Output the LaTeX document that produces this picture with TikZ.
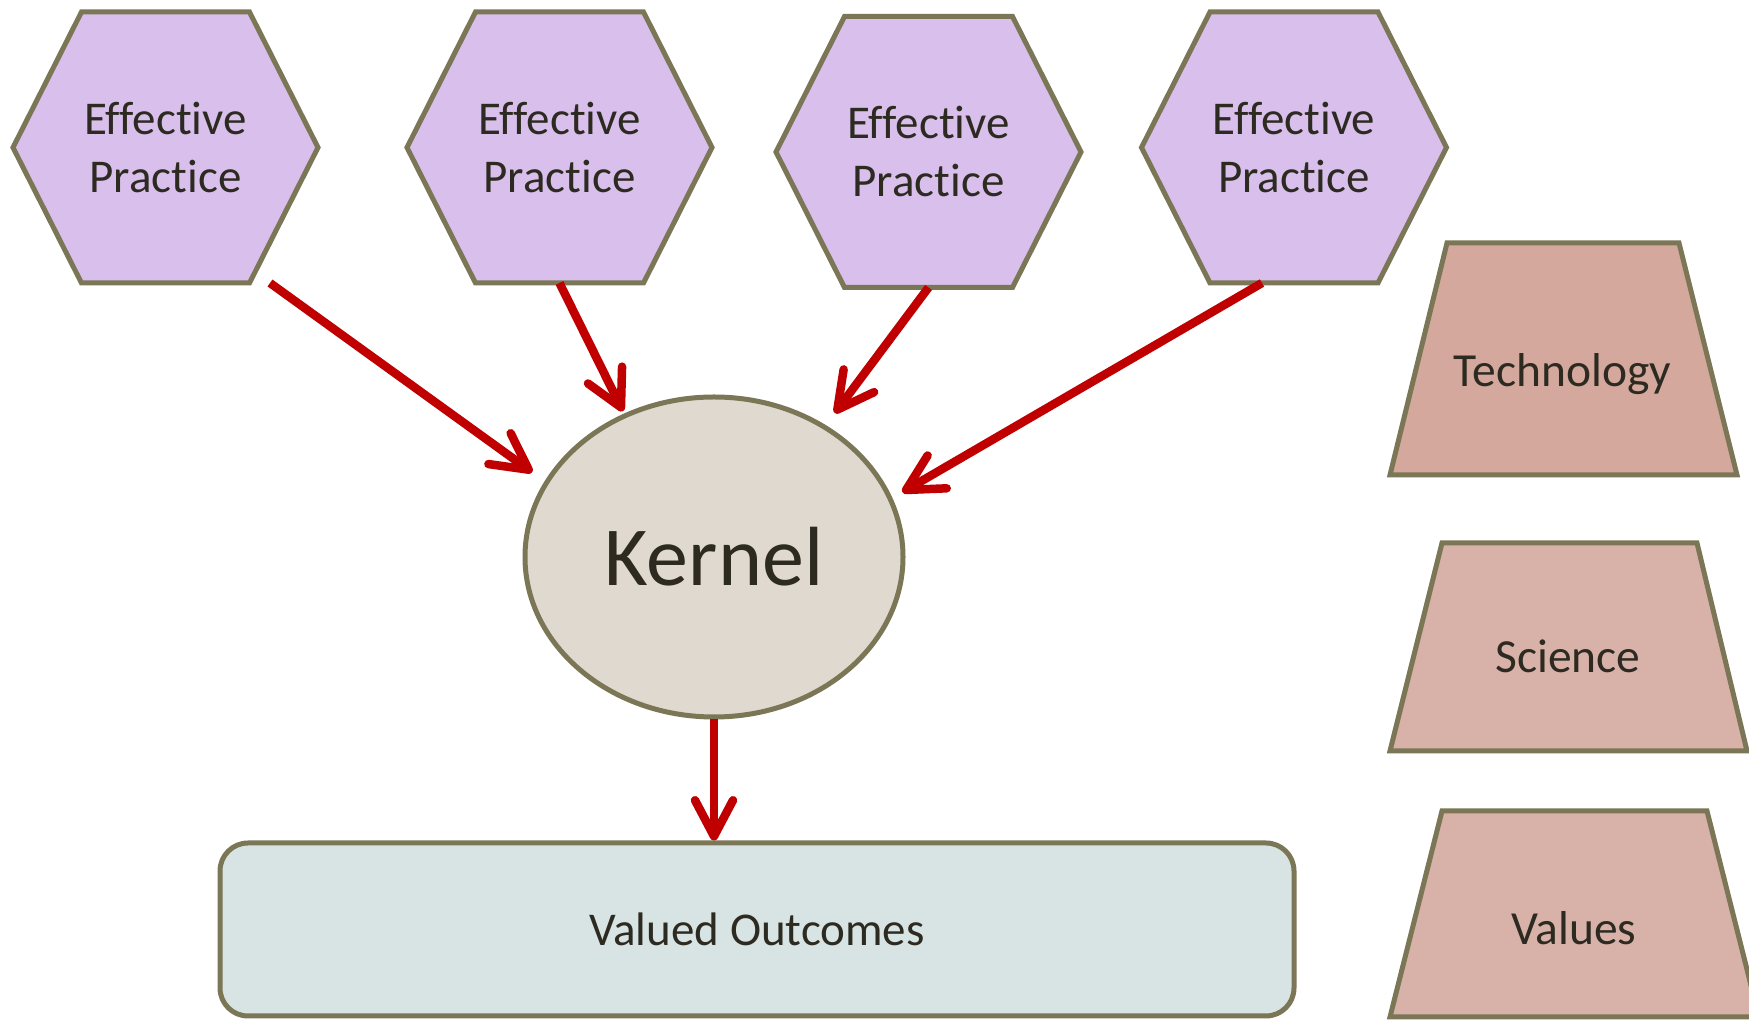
\documentclass[tikz,border=0pt]{standalone}
\usepackage{fontspec}
\setmainfont{Carlito}[Ligatures=CommonOff]
\usetikzlibrary{arrows.meta,calc,backgrounds,shapes.geometric}

\definecolor{edgeolive}{HTML}{7A7656}
\definecolor{hexfill}{HTML}{D9BFEC}
\definecolor{kernfill}{HTML}{E0D9CF}
\definecolor{outfill}{HTML}{D7E4E3}
\definecolor{techfill}{HTML}{D4A89D}
\definecolor{rosefill}{HTML}{D8B1A9}
\definecolor{arrred}{HTML}{C00000}
\definecolor{inktext}{HTML}{2D2A21}

% soft grey glow towards the slide edges
\pgfdeclareradialshading{slideglow}{\pgfpointorigin}{%
  color(0bp)=(white); color(30bp)=(white); color(50bp)=(black!12)}

% hexagon outline drawn behind a hexagon text node
\newcommand{\hexoutline}[1]{%
  \begin{scope}[on background layer]
    \filldraw[hexshape]
      (#1.west) -- ([xshift=68.5pt]#1.north west) -- ([xshift=-68.5pt]#1.north east)
      -- (#1.east) -- ([xshift=-68.5pt]#1.south east) -- ([xshift=68.5pt]#1.south west)
      -- cycle;
  \end{scope}}

\begin{document}
\begin{tikzpicture}[x=1pt,y=1pt,
  hexnode/.style={rectangle, minimum width=305pt, minimum height=271pt,
    inner sep=0pt, outer sep=0pt, align=center, text=inktext,
    font=\fontsize{47}{58}\selectfont},
  hexshape/.style={fill=hexfill, draw=edgeolive, line width=5pt, line join=miter},
  trapshape/.style={draw=edgeolive, line width=5pt, line join=miter},
  traplabel/.style={anchor=base, inner sep=0pt, text=inktext,
    font=\fontsize{47.5}{56}\selectfont},
  arr/.style={draw=arrred, line width=8.5pt,
    -{Straight Barb[length=36pt, width=38pt, round]}}
  ]
\useasboundingbox (0,0) rectangle (1749,1020);

% slide background
\begin{scope}[on background layer]
  \fill[white] (0,0) rectangle (1749,1020);
  \begin{scope}
    \clip (0,0) rectangle (1749,1020);
    \shade[shading=slideglow] (760,640) circle [radius=1300pt];
  \end{scope}
\end{scope}

% effective practices
\node[hexnode] (h1) at (165.5,872.5) {Effective\\Practice};
\node[hexnode] (h2) at (559.5,872.5) {Effective\\Practice};
\node[hexnode] (h3) at (928.5,868) {Effective\\Practice};
\node[hexnode] (h4) at (1294,872.5) {Effective\\Practice};
\hexoutline{h1}
\hexoutline{h2}
\hexoutline{h3}
\hexoutline{h4}

% kernel
\node[ellipse, draw=edgeolive, fill=kernfill, line width=5pt,
  minimum width=378pt, minimum height=320pt, inner sep=0pt, text=inktext,
  font=\fontsize{84}{100}\selectfont] (k) at (714,463) {Kernel};

% valued outcomes
\node[rectangle, rounded corners=28pt, draw=edgeolive, fill=outfill,
  line width=5pt, minimum width=1074pt, minimum height=173pt,
  inner sep=0pt, text=inktext, font=\fontsize{47}{56}\selectfont]
  (vo) at (757,90.5) {Valued Outcomes};

% foundations on the right
\filldraw[trapshape, fill=techfill]
  (1390,545) -- (1447,777) -- (1679,777) -- (1737,545) -- cycle;
\node[traplabel] (tech) at (1562.5,633) {Technology};
\filldraw[trapshape, fill=rosefill]
  (1390,269) -- (1442,477) -- (1697,477) -- (1747,269) -- cycle;
\node[traplabel] (sci) at (1568,347) {Science};
\filldraw[trapshape, fill=rosefill]
  (1390,3) -- (1442,209) -- (1707,209) -- (1759,3) -- cycle;
\node[traplabel] (val) at (1574,75) {Values};

% connectors
\draw[arr] ([xshift=104.5pt]h1.south) -- ($(k.center)!1.0835!(k.155.9)$);
\draw[arr] (h2.south) -- ($(k.center)!1.016!(k.122.4)$);
\draw[arr] (h3.south) -- ($(k.center)!1.0876!(k.50.9)$);
\draw[arr] ([xshift=-32pt]h4.south) -- ($(k.center)!1.0617!(k.19.6)$);
\draw[arr] (k.south) -- (k.south |- vo.north);
\end{tikzpicture}
\end{document}
